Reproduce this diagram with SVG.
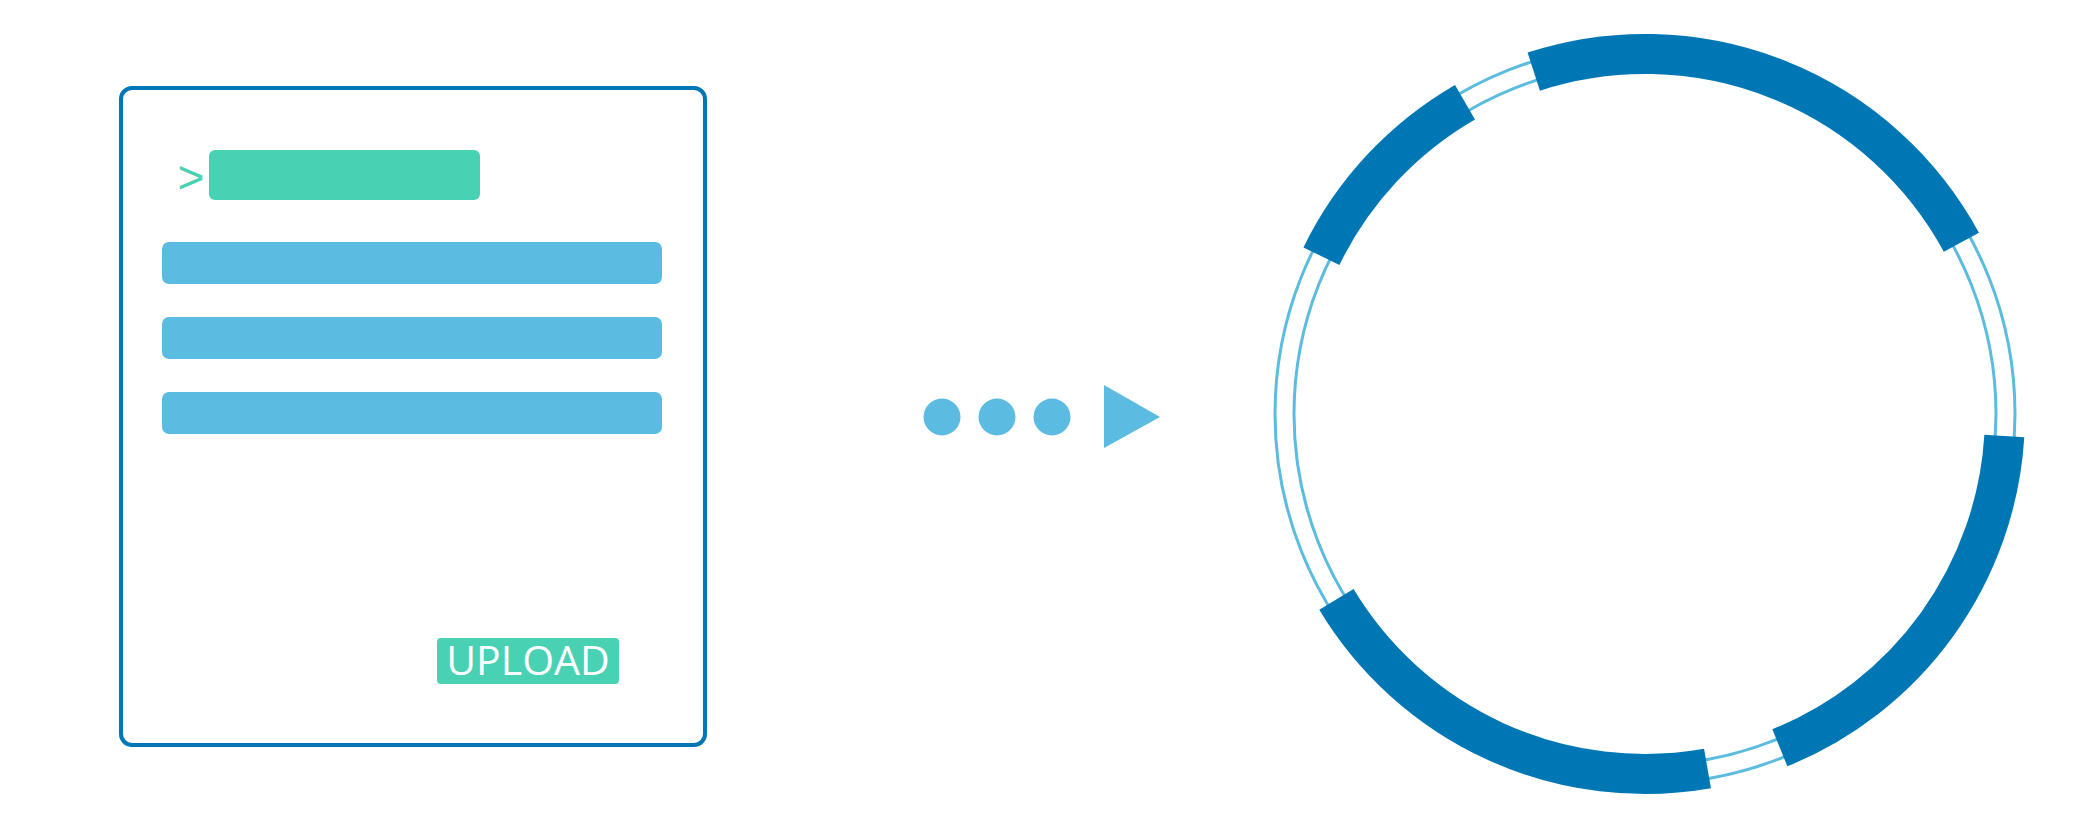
<svg xmlns="http://www.w3.org/2000/svg" width="2084" height="834" viewBox="0 0 2084 834">
<style>
.frame{fill:#ffffff;stroke:#0077b5;stroke-width:4}
.green{fill:#49d1b3}
.bar{fill:#5bbbe0}
.thin{fill:none;stroke:#5bbce0;stroke-width:3}
.band{fill:none;stroke:#0077b5;stroke-width:40;stroke-linecap:butt}
.btntext{font-family:"Open Sans","Liberation Sans",sans-serif;font-size:41px;fill:#ffffff}
</style>
<rect width="2084" height="834" fill="#ffffff"/>
<g id="form">
  <rect class="frame" x="121" y="88" width="584" height="657" rx="11"/>
  <text x="191" y="193" text-anchor="middle" font-family="Liberation Sans, sans-serif" font-size="46" fill="#49d1b3">&gt;</text>
  <rect class="green" x="209" y="150" width="271" height="50" rx="6"/>
  <rect class="bar" x="162" y="242" width="500" height="42" rx="7"/>
  <rect class="bar" x="162" y="317" width="500" height="42" rx="7"/>
  <rect class="bar" x="162" y="392" width="500" height="42" rx="7"/>
  <g id="upload">
    <rect class="green" x="437" y="638" width="182" height="46" rx="4"/>
    <text class="btntext" x="528" y="675" text-anchor="middle">UPLOAD</text>
  </g>
</g>
<g id="connectors">
  <circle class="bar" cx="942" cy="417" r="18.5"/>
  <circle class="bar" cx="997" cy="417" r="18.5"/>
  <circle class="bar" cx="1052" cy="417" r="18.5"/>
  <polygon class="bar" points="1104,385 1160,417 1104,448"/>
</g>
<g id="ring">
  <circle class="thin" cx="1645" cy="414" r="351"/>
  <circle class="thin" cx="1645" cy="414" r="370"/>
  <path class="band" d="M1533.75,71.62 A360,360 0 0 1 1961.38,242.22"/>
  <path class="band" d="M1321.43,256.19 A360,360 0 0 1 1465,102.23"/>
  <path class="band" d="M1707.51,768.53 A360,360 0 0 1 1336.42,599.41"/>
  <path class="band" d="M2004.33,435.98 A360,360 0 0 1 1779.86,747.79"/>
</g>
</svg>
